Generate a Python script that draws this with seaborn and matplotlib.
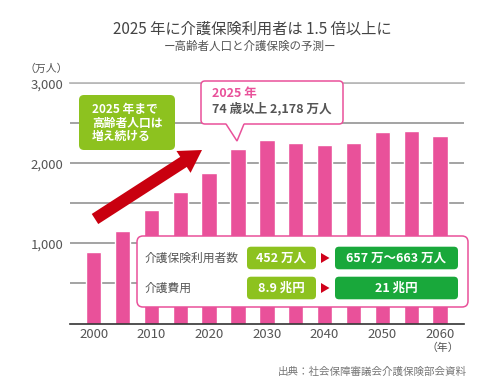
import numpy as np
import pandas as pd
import seaborn as sns
import matplotlib.pyplot as plt
import matplotlib.transforms as mtransforms
from matplotlib.patches import FancyBboxPatch, Polygon, FancyArrow

# data
years = ["2000", "2005", "2010", "2015", "2020", "2025", "2030",
         "2035", "2040", "2045", "2050", "2055", "2060"]
elderly = [897, 1160, 1419, 1644, 1877, 2178, 2290,
           2256, 2231, 2256, 2394, 2406, 2344]
ytick_vals = [500, 1000, 1500, 2000, 2500, 3000]
ytick_labels = ["", "1,000", "", "2,000", "", "3,000"]

row_labels = ["介護保険利用者数", "介護費用"]
now_values = ["452 万人", "8.9 兆円"]
future_values = ["657 万〜663 万人", "21 兆円"]

PINK = "#E9519A"
LIGHT_GREEN = "#8DC21F"
DARK_GREEN = "#19A83B"
RED = "#C9000F"
TEXT = "#555555"

sns.set_theme(style="white")
plt.rcParams['font.family'] = ['Noto Sans CJK JP', 'DejaVu Sans']

W, H = 501, 387
fig = plt.figure(figsize=(W / 100, H / 100), dpi=100)
ax = fig.add_axes([70 / W, 63.5 / H, 394 / W, 240.2 / H])

df = pd.DataFrame({"year": years, "value": elderly})
sns.barplot(data=df, x="year", y="value", color=PINK, saturation=1,
            width=0.53, ax=ax, zorder=2)

ax.set_xlim(-0.82, 12.83)
ax.set_ylim(0, 3000)
ax.set_yticks(ytick_vals)
ax.set_yticklabels(ytick_labels)
ax.set_xticks(range(0, 13, 2))
ax.set_xticklabels(years[::2])
ax.tick_params(axis="both", length=0, labelsize=9.5, labelcolor=TEXT)
ax.tick_params(axis="x", pad=3)
ax.tick_params(axis="y", pad=5)
ax.set_xlabel("")
ax.set_ylabel("")
ax.yaxis.grid(True, color="#8a8a8a", linewidth=1.1)
ax.set_axisbelow(True)
for s in ["left", "right"]:
    ax.spines[s].set_visible(False)
ax.spines["top"].set_color("#bbbbbb")
ax.spines["top"].set_linewidth(1.3)
ax.spines["bottom"].set_color("#333333")
ax.spines["bottom"].set_linewidth(1.2)

T = mtransforms.IdentityTransform()


def rbox(x0, y0, x1, y1, fc, ec="none", lw=0, r=4, z=5):
    p = FancyBboxPatch((x0, H - y1), x1 - x0, y1 - y0,
                       boxstyle=f"round,pad=0,rounding_size={r}",
                       fc=fc, ec=ec, lw=lw, transform=T, zorder=z, clip_on=False)
    fig.add_artist(p)


def txt(x, y, s, **kw):
    kw.setdefault("zorder", 20)
    fig.text(x / W, 1 - y / H, s, **kw)


# titles
txt(252, 29, "2025 年に介護保険利用者は 1.5 倍以上に", ha="center", va="center",
    fontsize=11, color="#444444")
txt(250, 46, "ー高齢者人口と介護保険の予測ー", ha="center", va="center",
    fontsize=8.3, color="#555555")
txt(46, 69, "（万人）", ha="center", va="center", fontsize=7.8, color=TEXT)
txt(443, 348, "（年）", ha="center", va="center", fontsize=7.8, color=TEXT)
txt(467, 372, "出典：社会保障審議会介護保険部会資料", ha="right", va="center",
    fontsize=7.6, color="#777777")

# green callout
rbox(79, 95, 175, 150, LIGHT_GREEN, r=5)
for i, line in enumerate(["2025 年まで", "高齢者人口は", "増え続ける"]):
    txt(92, 110 + i * 13.2, line, ha="left", va="center", fontsize=8.5,
        color="white", fontweight="bold")

# red arrow
fig.add_artist(FancyArrow(95, H - 219, 107, 69, width=12, head_width=26,
                          head_length=22, length_includes_head=True,
                          fc=RED, ec="none", transform=T, zorder=6))

# pink callout with tail
rbox(201, 81, 343, 124, "white", ec=PINK, lw=1.1, r=4, z=7)
fig.add_artist(Polygon([(226, H - 123), (244, H - 123), (237, H - 141)],
                       closed=True, fc="white", ec="none", transform=T, zorder=8))
fig.add_artist(Polygon([(226, H - 124), (237, H - 141), (244, H - 124)],
                       closed=False, fill=False, ec=PINK, lw=1.1,
                       transform=T, zorder=8))
txt(212, 93, "2025 年", ha="left", va="center", fontsize=9, color=PINK,
    fontweight="bold")
txt(212, 109, "74 歳以上 2,178 万人", ha="left", va="center", fontsize=9,
    color=TEXT, fontweight="bold")

# info box
rbox(137, 236, 468, 307, "white", ec=PINK, lw=1.1, r=6, z=9)
for i, (lab, a, b) in enumerate(zip(row_labels, now_values, future_values)):
    yc = 258 + i * 30
    txt(145, yc, lab, ha="left", va="center", fontsize=8.5, color=TEXT)
    rbox(247, yc - 11.3, 316, yc + 11.3, LIGHT_GREEN, r=4, z=10)
    rbox(335, yc - 11.3, 458, yc + 11.3, DARK_GREEN, r=4, z=10)
    fig.add_artist(Polygon([(321, H - yc + 5), (321, H - yc - 5), (329.5, H - yc)],
                           closed=True, fc="#D0021B", ec="none", transform=T, zorder=10))
    txt(281.5, yc, a, ha="center", va="center", fontsize=9, color="white",
        fontweight="bold")
    txt(396.5, yc, b, ha="center", va="center", fontsize=9, color="white",
        fontweight="bold")

fig.savefig("out.png", dpi=100)
